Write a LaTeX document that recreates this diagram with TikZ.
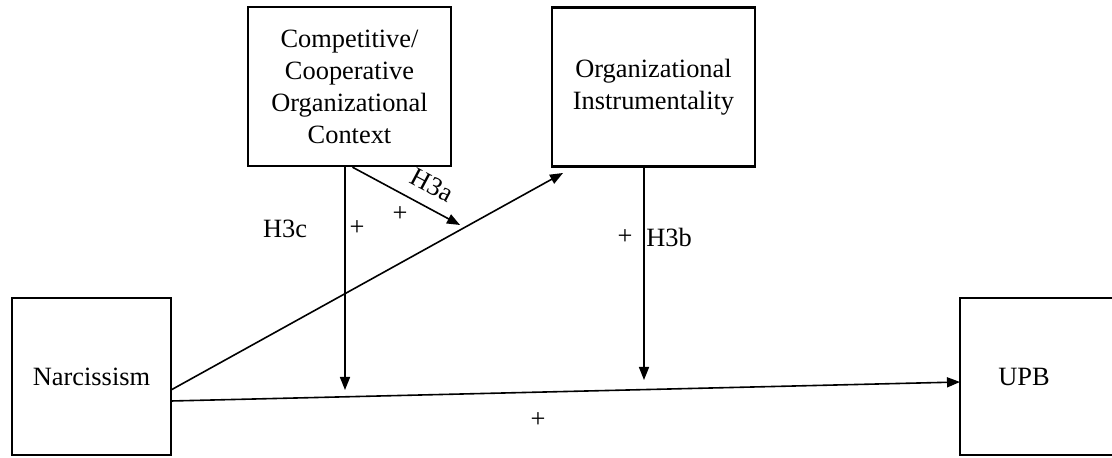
\documentclass[tikz,border=0pt]{standalone}
\usepackage{fontspec}
\setmainfont{Liberation Serif}
\usetikzlibrary{arrows.meta}
\tikzset{
  box/.style={draw, line width=1.2pt, align=center, inner sep=0pt},
  link/.style={line width=0.8pt, -{Triangle[length=6.5pt,width=5pt]}},
  lbl/.style={inner sep=0pt}
}
\begin{document}
\begin{tikzpicture}[x=0.5pt,y=-0.5pt,font=\fontsize{13.2}{16}\selectfont]
			\useasboundingbox (0,0) rectangle (1112,458);
			\clip (0,0) rectangle (1112,458);
			\node[box, minimum width=101.5pt, minimum height=79.5pt] (comp) at (349.5,86.5) {Competitive/\\Cooperative\\Organizational\\Context};
			\node[box, minimum width=101.5pt, minimum height=79.5pt] (instr) at (653.5,87) {Organizational\\Instrumentality};
			\node[box, minimum width=79.5pt, minimum height=78.5pt] (narc) at (91.5,376.5) {Narcissism};
			\node[box, minimum width=80pt, minimum height=78.5pt] (upb) at (1040,376.5) {\hspace*{-16pt}UPB};
			% end points of the arrows
			\coordinate (narcA) at (171,390);
			\coordinate (narcB) at (171,401);
			\coordinate (instrIn) at (563,173);
			\coordinate (upbIn) at (960,382);
			\coordinate (tipA) at (460,225);
			\coordinate (tipC) at (345,390);
			\coordinate (tipB) at (644,380);
		  	\draw[link] (narcA) -- (instrIn);
		  	\draw[link] (narcB) -- (upbIn);
		  	\draw[link] (comp.south -| tipC) -- (tipC);
		  	\draw[link] ([xshift=1.5pt]comp.south) -- (tipA);
		  	\draw[link] (instr.south -| tipB) -- (tipB);
			% labels
			\node[lbl] (h3c) at (285,229) {H3c};
			\node[lbl] (pc) at (357,228) {+};
			\node[lbl] (pa) at (400,214) {+};
			\node[lbl, rotate=-28] (h3a) at (432,185) {H3a};
			\node[lbl] (pb) at (625,237) {+};
			\node[lbl] (h3b) at (669,237) {H3b};
			\node[lbl] (pd) at (538,420) {+};
		\end{tikzpicture}
\end{document}
